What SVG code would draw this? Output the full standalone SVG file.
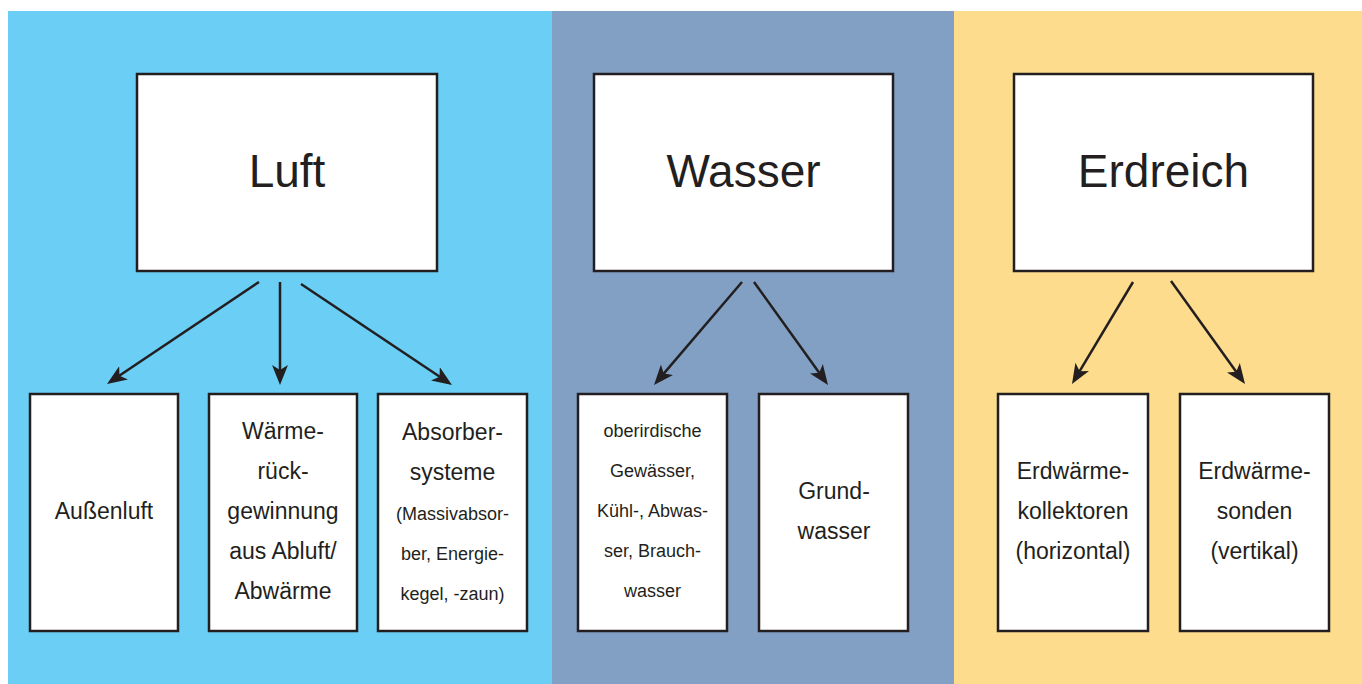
<svg xmlns="http://www.w3.org/2000/svg" width="1362" height="684" viewBox="0 0 1362 684">
<style>
.box{fill:#ffffff;stroke:#231f20;stroke-width:2.5}
.t{font-family:"Liberation Sans",Arial,sans-serif;fill:#231f20;text-anchor:middle}
.title{font-size:46px}
.lbl{font-size:23px}
.sm{font-size:18px}
.con{stroke:#231f20;stroke-width:2.5;fill:none;marker-end:url(#ah)}
</style>
<defs>
<marker id="ah" viewBox="0 0 20 16" refX="8" refY="8" markerWidth="20" markerHeight="16" markerUnits="userSpaceOnUse" orient="auto">
<path d="M0,0 L20,8 L0,16 L5,8 Z" fill="#231f20"/>
</marker>
</defs>
<rect x="0" y="0" width="1362" height="684" fill="#ffffff"/>
<g id="panels">
<rect x="8" y="11" width="544" height="673" fill="#6bcef5"/>
<rect x="552" y="11" width="402" height="673" fill="#82a0c4"/>
<rect x="954" y="11" width="408" height="673" fill="#fddc8e"/>
</g>
<g id="connectors">
<line class="con" x1="259" y1="282" x2="116.96" y2="377.31"/>
<line class="con" x1="280" y1="282" x2="280" y2="373"/>
<line class="con" x1="301" y1="284" x2="442.03" y2="378.33"/>
<line class="con" x1="742" y1="282" x2="661.8" y2="375.88"/>
<line class="con" x1="754" y1="282" x2="821" y2="375.25"/>
<line class="con" x1="1133" y1="282" x2="1078.16" y2="373.7"/>
<line class="con" x1="1171" y1="281" x2="1238" y2="374.25"/>
</g>
<g id="luft">
<rect class="box" x="137" y="74" width="300" height="197"/>
<text class="t title" x="287" y="187">Luft</text>
</g>
<g id="wasser">
<rect class="box" x="594" y="74" width="299" height="197"/>
<text class="t title" x="743.5" y="187">Wasser</text>
</g>
<g id="erdreich">
<rect class="box" x="1014" y="74" width="299" height="197"/>
<text class="t title" x="1163.5" y="187">Erdreich</text>
</g>
<g id="aussenluft">
<rect class="box" x="30" y="394" width="148" height="237"/>
<text class="t lbl" x="104" y="519">Außenluft</text>
</g>
<g id="waermerueckgewinnung">
<rect class="box" x="209" y="394" width="148" height="237"/>
<text class="t lbl" x="283" y="439">Wärme-</text>
<text class="t lbl" x="283" y="479">rück-</text>
<text class="t lbl" x="283" y="519">gewinnung</text>
<text class="t lbl" x="283" y="559">aus Abluft/</text>
<text class="t lbl" x="283" y="599">Abwärme</text>
</g>
<g id="absorbersysteme">
<rect class="box" x="378" y="394" width="149" height="237"/>
<text class="t lbl" x="452.5" y="440">Absorber-</text>
<text class="t lbl" x="452.5" y="480">systeme</text>
<text class="t sm" x="452.5" y="520">(Massivabsor-</text>
<text class="t sm" x="452.5" y="560">ber, Energie-</text>
<text class="t sm" x="452.5" y="600">kegel, -zaun)</text>
</g>
<g id="oberirdische">
<rect class="box" x="578" y="394" width="149" height="237"/>
<text class="t sm" x="652.5" y="437">oberirdische</text>
<text class="t sm" x="652.5" y="477">Gewässer,</text>
<text class="t sm" x="652.5" y="517">Kühl-, Abwas-</text>
<text class="t sm" x="652.5" y="557">ser, Brauch-</text>
<text class="t sm" x="652.5" y="597">wasser</text>
</g>
<g id="grundwasser">
<rect class="box" x="759" y="394" width="149" height="237"/>
<text class="t lbl" x="834" y="499">Grund-</text>
<text class="t lbl" x="834" y="539">wasser</text>
</g>
<g id="kollektoren">
<rect class="box" x="998" y="394" width="150" height="237"/>
<text class="t lbl" x="1073" y="479">Erdwärme-</text>
<text class="t lbl" x="1073" y="519">kollektoren</text>
<text class="t lbl" x="1073" y="559">(horizontal)</text>
</g>
<g id="sonden">
<rect class="box" x="1180" y="394" width="149" height="237"/>
<text class="t lbl" x="1254.5" y="479">Erdwärme-</text>
<text class="t lbl" x="1254.5" y="519">sonden</text>
<text class="t lbl" x="1254.5" y="559">(vertikal)</text>
</g>
</svg>
